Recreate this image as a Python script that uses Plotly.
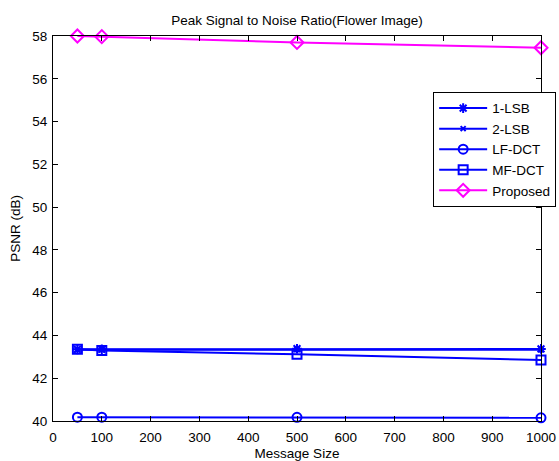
import plotly.graph_objects as go

message_size = [50, 100, 500, 1000]
lsb1 = [43.35, 43.35, 43.38, 43.37]
lsb2 = [43.33, 43.33, 43.34, 43.33]
lf_dct = [40.18, 40.18, 40.17, 40.15]
mf_dct = [43.36, 43.30, 43.12, 42.85]
proposed = [58.0, 57.97, 57.7, 57.45]

blue = "rgb(0,0,255)"
magenta = "rgb(255,0,255)"
font = "Liberation Sans, Arial, sans-serif"

series = [
    ("1-LSB", lsb1, blue, "asterisk-open", 8),
    ("2-LSB", lsb2, blue, "x-thin-open", 5),
    ("LF-DCT", lf_dct, blue, "circle-open", 9),
    ("MF-DCT", mf_dct, blue, "square-open", 9),
    ("Proposed", proposed, magenta, "diamond-open", 10),
]

fig = go.Figure()
for i, (name, ys, col, sym, sz) in enumerate(series):
    fig.add_trace(go.Scatter(
        x=message_size, y=ys, name=name, mode="lines+markers",
        line=dict(color=col, width=2),
        marker=dict(symbol=sym, size=sz, color=col, line=dict(color=col, width=2)),
        cliponaxis=False, legendgroup=name,
    ))

fig.update_layout(
    width=559, height=461,
    margin=dict(l=53, r=18, t=36, b=40, autoexpand=False),
    paper_bgcolor="white", plot_bgcolor="white",
    font=dict(family=font, size=13.5, color="black"),
    title=dict(text="Peak Signal to Noise Ratio(Flower Image)", x=0.5, xref="paper",
               y=1 - 20 / 461, yref="container", yanchor="middle",
               font=dict(family=font, size=13.5, color="black")),
    legend=dict(x=0.779, y=0.855, xanchor="left", yanchor="top",
                bordercolor="black", borderwidth=1, bgcolor="white",
                font=dict(family=font, size=13.5), tracegroupgap=0,
                itemwidth=48),
    showlegend=True,
)
fig.update_xaxes(range=[0, 1000], dtick=100, tick0=0, ticks="inside", ticklen=5,
                 tickcolor="black", showline=True, linecolor="black", linewidth=1,
                 mirror="ticks", showgrid=False, zeroline=False,
                 ticklabelstandoff=4, tickfont=dict(size=13.5),
                 title=dict(text="Message Size", standoff=7, font=dict(size=13.5)))
fig.update_yaxes(range=[40, 58], dtick=2, tick0=40, ticks="inside", ticklen=5,
                 tickcolor="black", showline=True, linecolor="black", linewidth=1,
                 mirror="ticks", showgrid=False, zeroline=False,
                 ticklabelstandoff=2, tickfont=dict(size=13.5),
                 title=dict(text="PSNR (dB)", standoff=8, font=dict(size=13.5)))

fig.write_html("out.html")
